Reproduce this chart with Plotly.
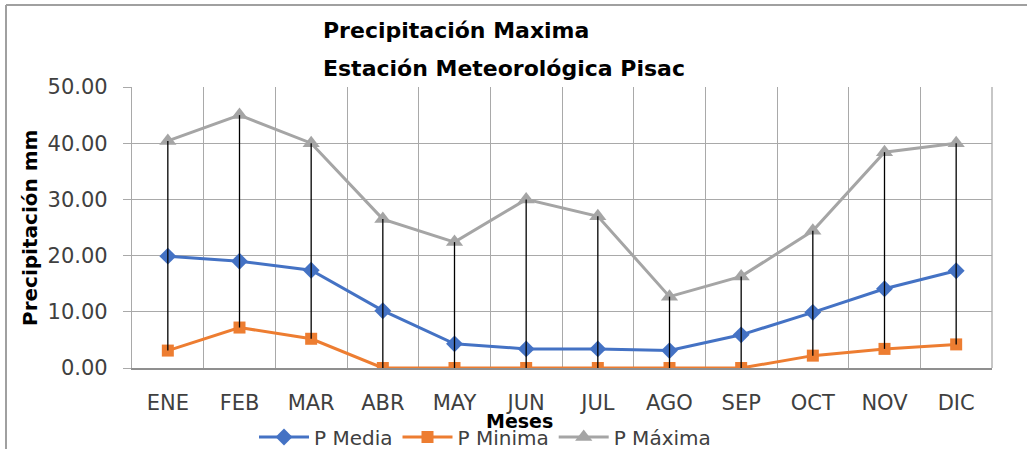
import plotly.graph_objects as go

# Meses y precipitaciones (mm) de la estación Pisac
meses = ["ENE", "FEB", "MAR", "ABR", "MAY", "JUN", "JUL", "AGO", "SEP", "OCT", "NOV", "DIC"]
p_media = [19.9, 19.0, 17.4, 10.2, 4.3, 3.4, 3.4, 3.1, 5.9, 9.9, 14.1, 17.3]
p_minima = [3.1, 7.2, 5.2, 0.0, 0.0, 0.0, 0.0, 0.0, 0.0, 2.2, 3.4, 4.2]
p_maxima = [40.4, 45.0, 40.0, 26.5, 22.4, 30.0, 27.0, 12.7, 16.3, 24.4, 38.4, 40.0]
y_ticks = [0, 10, 20, 30, 40, 50]

FONT = "DejaVu Sans"
TXT = "#404040"
GRID = "#a9a9a9"

W, H = 1027, 449
L, R, T, B = 132, 35, 87, 81
PW, PH = W - L - R, H - T - B


def px_x(px):
    return (px - L) / PW


def px_y(py):
    return (H - B - py) / PH


fig = go.Figure()

fig.add_trace(go.Scatter(
    x=meses, y=p_media, name="P Media", mode="lines+markers",
    line=dict(color="#4472C4", width=3),
    marker=dict(symbol="diamond", size=13, color="#4472C4"),
))
fig.add_trace(go.Scatter(
    x=meses, y=p_minima, name="P Minima", mode="lines+markers",
    line=dict(color="#ED7D31", width=3),
    marker=dict(symbol="square", size=12, color="#ED7D31"),
))
fig.add_trace(go.Scatter(
    x=meses, y=p_maxima, name="P Máxima", mode="lines+markers",
    line=dict(color="#A5A5A5", width=3),
    marker=dict(symbol="triangle-up", size=15, color="#A5A5A5"),
))

# Líneas de máximos y mínimos por mes
hl_x, hl_y = [], []
for m, hi, lo in zip(meses, p_maxima, p_minima):
    hl_x += [m, m, None]
    hl_y += [hi, lo, None]
fig.add_trace(go.Scatter(
    x=hl_x, y=hl_y, mode="lines", line=dict(color="black", width=1.3),
    showlegend=False, hoverinfo="skip",
))

fig.update_layout(
    width=W, height=H,
    margin=dict(l=L, r=R, t=T, b=B, autoexpand=False),
    paper_bgcolor="white", plot_bgcolor="white",
    font=dict(family=FONT, color=TXT),
    showlegend=True,
    legend=dict(
        orientation="h", x=px_x(485), y=px_y(437), xanchor="center", yanchor="middle",
        font=dict(family=FONT, size=20, color=TXT), itemwidth=50,
        bgcolor="rgba(0,0,0,0)", tracegroupgap=0,
    ),
    xaxis=dict(
        type="category", range=[-0.5, 11.5], tickson="boundaries",
        showgrid=True, gridcolor=GRID, gridwidth=1.3,
        showline=True, linecolor="#8f8f8f", linewidth=2, mirror=False,
        ticks="", ticklabelstandoff=15,
        tickfont=dict(family=FONT, size=21, color=TXT),
        zeroline=False, fixedrange=True,
    ),
    yaxis=dict(
        range=[0, 50], tickvals=y_ticks, tickformat=".2f",
        showgrid=True, gridcolor=GRID, gridwidth=1.3,
        showline=True, linecolor=GRID, linewidth=1.3,
        ticks="outside", ticklen=8, tickcolor=GRID, tickwidth=1.3,
        ticklabelstandoff=11,
        tickfont=dict(family=FONT, size=21, color=TXT),
        zeroline=False, fixedrange=True,
    ),
)

# Borde derecho del área de trazado
fig.add_shape(type="line", xref="paper", yref="paper", x0=1, x1=1, y0=0, y1=1,
              line=dict(color=GRID, width=1.3), layer="below")

# Títulos
fig.add_annotation(text="<b>Precipitación Maxima</b>", xref="paper", yref="paper",
                   x=px_x(321), y=px_y(31), xanchor="left", yanchor="middle",
                   showarrow=False, font=dict(family=FONT, size=22, color="black"))
fig.add_annotation(text="<b>Estación Meteorológica Pisac</b>", xref="paper", yref="paper",
                   x=px_x(321), y=px_y(68), xanchor="left", yanchor="middle",
                   showarrow=False, font=dict(family=FONT, size=22, color="black"))
fig.add_annotation(text="<b>Precipitación mm</b>", xref="paper", yref="paper",
                   x=px_x(30), y=px_y(228), xanchor="center", yanchor="middle",
                   textangle=-90, showarrow=False,
                   font=dict(family=FONT, size=20, color="black"))
fig.add_annotation(text="<b>Meses</b>", xref="paper", yref="paper",
                   x=px_x(519), y=px_y(421), xanchor="center", yanchor="middle",
                   showarrow=False, font=dict(family=FONT, size=19, color="black"))

# Marco exterior del gráfico (arriba e izquierda)
fig.add_shape(type="line", xref="paper", yref="paper",
              x0=px_x(6), x1=px_x(W + 5), y0=px_y(5), y1=px_y(5),
              line=dict(color="#a0a0a0", width=2))
fig.add_shape(type="line", xref="paper", yref="paper",
              x0=px_x(6), x1=px_x(6), y0=px_y(5), y1=px_y(H + 5),
              line=dict(color="#a0a0a0", width=2))

fig.write_html("out.html")
